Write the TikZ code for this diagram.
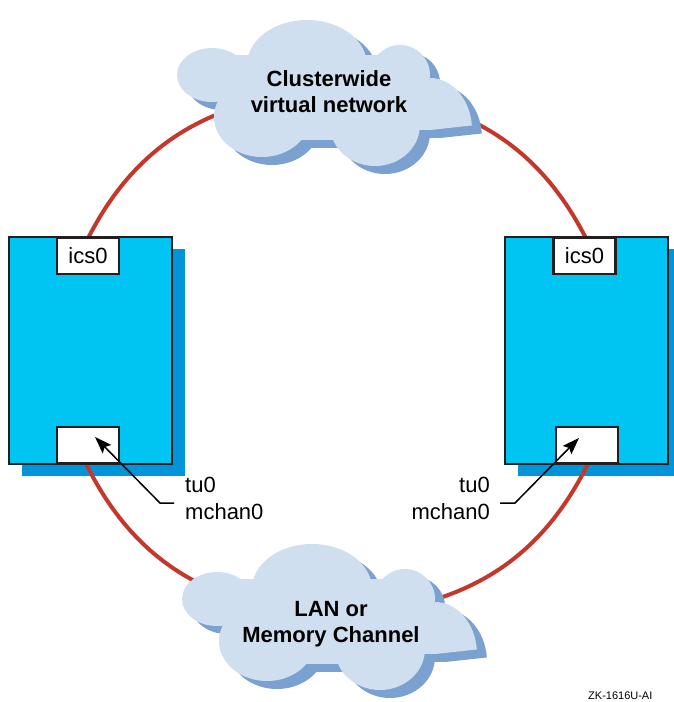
\documentclass[tikz,border=0pt]{standalone}
\usepackage{fontspec}
\setmainfont{Liberation Sans}
\usetikzlibrary{arrows.meta}
\definecolor{hostcyan}{RGB}{0,196,242}
\definecolor{hostshadow}{RGB}{0,149,217}
\definecolor{cloudfill}{RGB}{208,223,239}
\definecolor{cloudshade}{RGB}{122,161,208}
\definecolor{linkred}{RGB}{196,56,44}
\definecolor{edgegray}{RGB}{35,31,32}
\newcommand\cloudlobes{%
 \fill (212,75) ellipse [x radius=35, y radius=27];
 \fill (307,65) ellipse [x radius=60, y radius=45];
 \fill (400,75) circle [radius=30];
 \fill (430,130) -- (430,78) arc [start angle=-90, end angle=-5, x radius=42, y radius=52] -- cycle;
 \fill (410,80) rectangle (432,130);
 \fill (375,125) ellipse [x radius=45, y radius=41];
 \fill (262,117) ellipse [x radius=48, y radius=40];
 \fill (225,55) rectangle (415,140);
}
\begin{document}
\begin{tikzpicture}[x=1pt,y=-1pt,
  hostbox/.style={draw=edgegray, line width=2.2pt, fill=hostcyan, minimum width=163pt, minimum height=227pt, inner sep=0pt},
  portbox/.style={draw=edgegray, line width=2.2pt, fill=white, minimum width=62pt, minimum height=36pt, inner sep=0pt, font=\fontsize{22}{26}\selectfont},
  link/.style={draw=linkred, line width=4pt},
  leader/.style={draw=black, line width=1.5pt, -{Stealth[length=17pt,width=12pt,inset=3pt]}},
  cloudtext/.style={font=\bfseries\fontsize{22}{26}\selectfont, align=center, inner sep=0pt},
  lbl/.style={font=\fontsize{22}{27}\selectfont, inner sep=0pt}]
\useasboundingbox (0,0) rectangle (673,702);
\fill[white] (0,0) rectangle (673,702);

% host shadows
\fill[hostshadow] (22,249) rectangle (185,476);
\fill[hostshadow] (518,249) rectangle (681,476);

% red links (elliptical ring segments)
\coordinate (aTL) at (82.0,250.6);
\coordinate (bTL) at (288.9,95.0);
\coordinate (aTR) at (592.0,250.6);
\coordinate (bTR) at (385.1,95.0);
\coordinate (aBL) at (82.0,455.4);
\coordinate (bBL) at (288.9,611.0);
\coordinate (aBR) at (592.0,455.4);
\coordinate (bBR) at (385.1,611.0);
\draw[link] (aTL) to[bend left=28] (bTL);
\draw[link] (aTR) to[bend right=28] (bTR);
\draw[link] (aBL) to[bend right=28] (bBL);
\draw[link] (aBR) to[bend left=28] (bBR);

% hosts
\node[hostbox] (hostL) at (90.5,350.5) {};
\node[hostbox] (hostR) at (586.5,350.5) {};
\node[portbox] (icsL) at (88,256) {ics0};
\node[portbox] (icsR) at (584.5,256) {ics0};
\node[portbox] (tuL) at (88,445) {};
\node[portbox] (tuR) at (587,445) {};

% clouds
\begin{scope}[shift={(10,8)}, fill=cloudshade] \cloudlobes \end{scope}
\begin{scope}[fill=cloudfill] \cloudlobes \end{scope}
\begin{scope}[shift={(15,532)}, fill=cloudshade] \cloudlobes \end{scope}
\begin{scope}[shift={(5,524)}, fill=cloudfill] \cloudlobes \end{scope}
\node[cloudtext] (cvn) at (329,92) {Clusterwide\\virtual network};
\node[cloudtext] (lan) at (331,624) {LAN or\\Memory Channel};

% labels and leaders
\node[lbl, anchor=north west, align=left] (lblL) at (185,477) {tu0\\mchan0};
\node[lbl, anchor=north east, align=right] (lblR) at (490,477) {tu0\\mchan0};
\coordinate (endL) at (174,503);
\coordinate (elbL) at (160,503);
\coordinate (tipL) at (95,437);
\coordinate (endR) at (500,503);
\coordinate (elbR) at (515,503);
\coordinate (tipR) at (579,438);
\draw[leader] (endL) -- (elbL) -- (tipL);
\draw[leader] (endR) -- (elbR) -- (tipR);

\node[anchor=base west, font=\fontsize{11}{13}\selectfont, inner sep=0pt] (fig) at (588,699) {ZK-1616U-AI};
\end{tikzpicture}
\end{document}
